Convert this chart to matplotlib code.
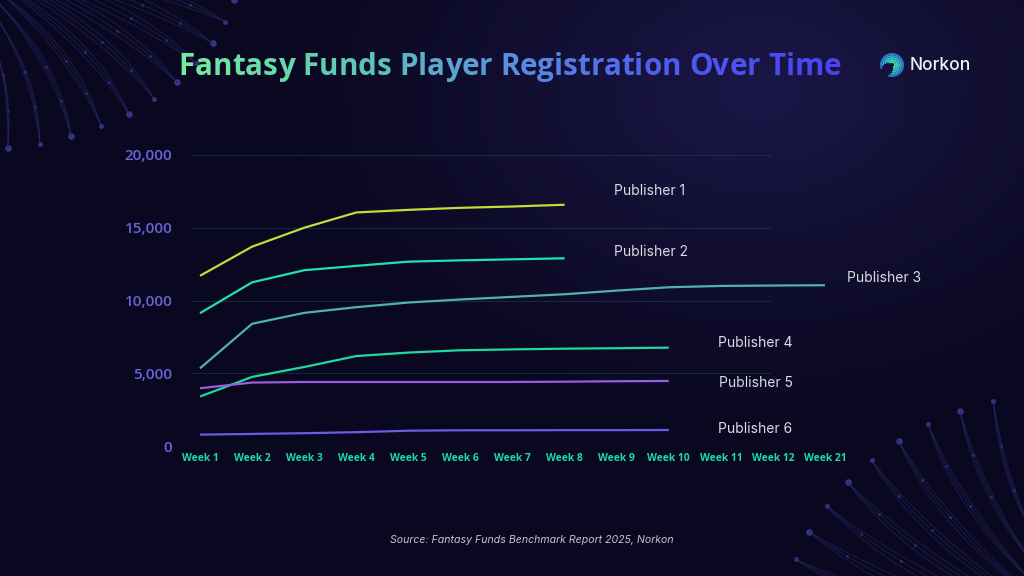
import numpy as np
import matplotlib
matplotlib.use("Agg")
import matplotlib.pyplot as plt
from matplotlib.colors import LinearSegmentedColormap, to_rgb
from matplotlib.patches import Arc

# ---------------- data ----------------
weeks = ["Week 1", "Week 2", "Week 3", "Week 4", "Week 5", "Week 6", "Week 7",
         "Week 8", "Week 9", "Week 10", "Week 11", "Week 12", "Week 21"]
publishers = ["Publisher 1", "Publisher 2", "Publisher 3",
              "Publisher 4", "Publisher 5", "Publisher 6"]
pub1 = [11700, 13700, 15000, 16050, 16230, 16370, 16460, 16580]
pub2 = [9130, 11250, 12080, 12380, 12670, 12760, 12830, 12900]
pub3 = [5340, 8400, 9150, 9540, 9860, 10070, 10250, 10430, 10680, 10910, 11000, 11030, 11050]
pub4 = [3400, 4750, 5430, 6180, 6420, 6580, 6640, 6690, 6720, 6760]
pub5 = [3970, 4360, 4400, 4400, 4400, 4400, 4400, 4420, 4450, 4470]
pub6 = [780, 830, 880, 950, 1050, 1080, 1080, 1090, 1090, 1100]
series = [pub1, pub2, pub3, pub4, pub5, pub6]
yticks = [0, 5000, 10000, 15000, 20000]
title = "Fantasy Funds Player Registration Over Time"
source = "Source: Fantasy Funds Benchmark Report 2025, Norkon"

colors = ["#c2dc3a", "#1de3b0", "#4fb2b0", "#1ed9a0", "#9a5ce0", "#6a5ce6"]
label_offsets = [(49, 14), (49, 6), (22, 7), (49, 5), (50, -2), (49, 1)]

W, H = 1024, 576
fig = plt.figure(figsize=(W / 100, H / 100), dpi=100)
fig.patch.set_facecolor("#0a0820")

# ---------------- background ----------------
bg = fig.add_axes([0, 0, 1, 1], zorder=-10)
yy, xx = np.mgrid[0:H, 0:W]
d = np.sqrt(((xx - 760) / 520.0) ** 2 + ((yy - 90) / 360.0) ** 2)
t = np.clip(1 - d, 0, 1) ** 1.3
c0 = np.array(to_rgb("#0a0820"))
c1 = np.array(to_rgb("#1b1748"))
img = c0[None, None, :] * (1 - t[..., None]) + c1[None, None, :] * t[..., None]
bg.imshow(img, extent=[0, W, H, 0], aspect="auto")
bg.set_xlim(0, W)
bg.set_ylim(H, 0)
bg.axis("off")


def deco(center, a, b, th0, th1, n, inward, flip):
    cx, cy = center
    for i, th in enumerate(np.linspace(th0, th1, n)):
        r = np.radians(th)
        ex = cx + flip[0] * a * np.cos(r)
        ey = cy + flip[1] * b * np.sin(r)
        for k in range(3):
            s = 0.15 + 0.06 * k
            sx = cx + (ex - cx) * s + inward[0] * (10 + 8 * k)
            sy = cy + (ey - cy) * s + inward[1] * (10 + 8 * k)
            mx = (ex + sx) / 2 + flip[0] * (25 + 6 * k)
            my = (ey + sy) / 2 - flip[1] * (5 + 4 * k)
            tt = np.linspace(0, 1, 40)
            px = (1 - tt) ** 2 * ex + 2 * (1 - tt) * tt * mx + tt ** 2 * sx
            py = (1 - tt) ** 2 * ey + 2 * (1 - tt) * tt * my + tt ** 2 * sy
            bg.plot(px, py, color="#2c2a6e", lw=0.7, alpha=0.55)
            if k == 1:
                bg.scatter([px[8], px[16]], [py[8], py[16]], s=5,
                           color="#36317c", alpha=0.8, lw=0)
        bg.scatter([ex], [ey], s=22 if i % 2 == 0 else 12, color="#3a3488", lw=0)


deco((-30, -40), 270, 190, 12, 82, 11, (-1, -1), (1, 1))
deco((1080, 640), 300, 250, 12, 80, 11, (1, 1), (-1, -1))

# ---------------- chart axes ----------------
x0px, x1px = 192, 840
xl = (-0.154, -0.154 + (x1px - x0px) / 52.08)
ax = fig.add_axes([x0px / W, (H - 446) / H, (x1px - x0px) / W, (446 - 155) / H])
ax.set_facecolor("none")
ax.set_xlim(*xl)
ax.set_ylim(0, 20000)
for s in ax.spines.values():
    s.set_visible(False)

grid_frac = (770 - x0px) / (x1px - x0px)
for yv in yticks:
    ax.axhline(yv, xmin=0, xmax=grid_frac, color="#1d4d50", lw=0.7,
               ls=(0, (1, 1)), zorder=1)

x = np.arange(len(weeks))
for name, vals, col, off in zip(publishers, series, colors, label_offsets):
    xs = x[:len(vals)]
    ax.plot(xs, vals, color=col, lw=1.6, clip_on=False, zorder=3,
            solid_capstyle="butt")
    ax.annotate(name, xy=(xs[-1], vals[-1]), xytext=off,
                textcoords="offset pixels", ha="left", va="center",
                color="#dcdce4", fontsize=10, family="Inter",
                annotation_clip=False)

ax.set_xticks(x)
ax.set_xticklabels(weeks, color="#19dcaa", fontsize=7.4, fontweight="bold",
                   family="Open Sans")
ax.set_yticks(yticks)
ax.set_yticklabels([f"{v:,}" for v in yticks], color="#6c62d6", fontsize=11,
                   fontweight="semibold", family="Open Sans")
ax.tick_params(axis="both", length=0)
ax.tick_params(axis="x", pad=5)
ax.tick_params(axis="y", pad=14)

# ---------------- gradient title ----------------
fig.canvas.draw()
renderer = fig.canvas.get_renderer()
cmap = LinearSegmentedColormap.from_list(
    "tg", ["#74eaa0", "#5ec7b4", "#5a8ee0", "#4f5cf0", "#4a44f2"])
tfs = 21.3
probe = fig.text(0, 0, title, fontsize=tfs, fontweight="bold", family="Open Sans")
tw = probe.get_window_extent(renderer).width
probe.remove()
start_px = 510 - tw / 2
cur = start_px
n = len(title)
for i, ch in enumerate(title):
    fig.text(cur / W, (H - 67) / H, ch, fontsize=tfs, fontweight="bold",
             family="Open Sans", color=cmap(i / (n - 1)), va="center",
             ha="left")
    prefix = fig.text(0, 0, title[:i + 1], fontsize=tfs, fontweight="bold",
                      family="Open Sans")
    cur = start_px + prefix.get_window_extent(renderer).width
    prefix.remove()

# ---------------- logo ----------------
lx, ly = 892, 65
for k, r in enumerate([11, 9, 7, 5, 3]):
    col = ["#2a7fd0", "#2fa6cf", "#36c3c8", "#3cd6c0", "#48e0b8"][k]
    bg.add_patch(Arc((lx, ly), 2 * r, 2 * r, theta1=-200 + 15 * k, theta2=110 - 10 * k,
                     color=col, lw=1.3))
fig.text(910 / W, (H - 65) / H, "Norkon", color="#f2f2f6", fontsize=12.5,
         family="Inter", fontweight="medium", va="center", ha="left")

# ---------------- source ----------------
fig.text(532 / W, (H - 540) / H, source, color="#c4c4cc", fontsize=7.6,
         style="italic", family="Inter", ha="center", va="center")

fig.savefig("out.png", dpi=100, facecolor=fig.get_facecolor())
